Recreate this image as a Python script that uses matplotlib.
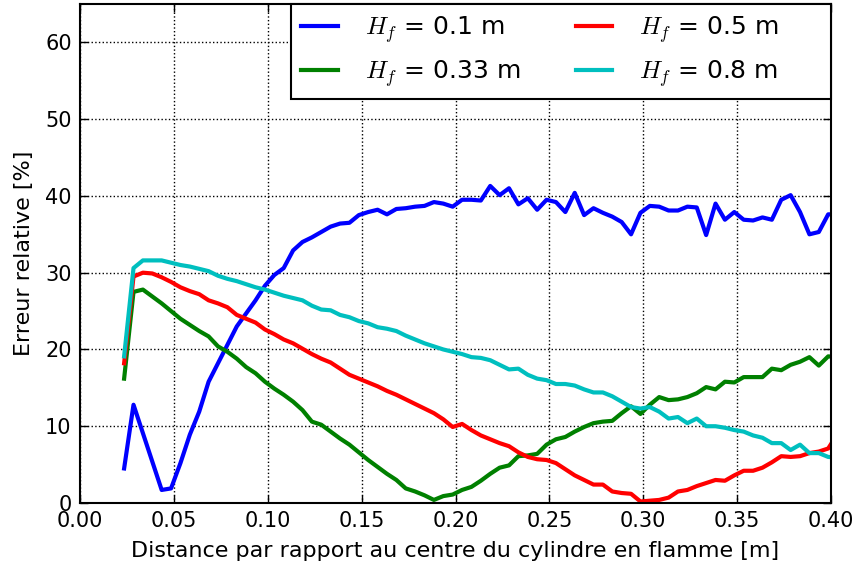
"""Erreur relative en fonction de la distance au cylindre en flamme."""

import matplotlib

matplotlib.use("Agg")
import matplotlib.pyplot as plt


# distance au centre du cylindre [m]
DISTANCE = [
    0.0235, 0.0285, 0.0335, 0.0385, 0.0435, 0.0485, 0.0535, 0.0585, 0.0635, 0.0685,
    0.0735, 0.0785, 0.0835, 0.0885, 0.0935, 0.0985, 0.1035, 0.1085, 0.1135, 0.1185,
    0.1235, 0.1285, 0.1335, 0.1385, 0.1435, 0.1485, 0.1535, 0.1585, 0.1635, 0.1685,
    0.1735, 0.1785, 0.1835, 0.1885, 0.1935, 0.1985, 0.2035, 0.2085, 0.2135, 0.2185,
    0.2235, 0.2285, 0.2335, 0.2385, 0.2435, 0.2485, 0.2535, 0.2585, 0.2635, 0.2685,
    0.2735, 0.2785, 0.2835, 0.2885, 0.2935, 0.2985, 0.3035, 0.3085, 0.3135, 0.3185,
    0.3235, 0.3285, 0.3335, 0.3385, 0.3435, 0.3485, 0.3535, 0.3585, 0.3635, 0.3685,
    0.3735, 0.3785, 0.3835, 0.3885, 0.3935, 0.3985, 0.4035,
]

# erreur relative [%] pour chaque hauteur de flamme
ERR_HF_010 = [
    4.5, 12.8, 9.1, 5.4, 1.7, 1.9, 5.2, 8.9, 11.9, 15.8,
    18.2, 20.6, 23.0, 24.7, 26.4, 28.3, 29.7, 30.6, 32.9, 34.0,
    34.6, 35.3, 36.0, 36.4, 36.5, 37.5, 37.9, 38.2, 37.6, 38.3,
    38.4, 38.6, 38.7, 39.2, 39.0, 38.6, 39.5, 39.5, 39.4, 41.3,
    40.1, 41.0, 38.9, 39.7, 38.2, 39.5, 39.2, 37.9, 40.4, 37.5,
    38.4, 37.8, 37.3, 36.6, 35.0, 37.8, 38.7, 38.6, 38.1, 38.1,
    38.6, 38.5, 34.9, 39.0, 36.9, 37.9, 36.9, 36.8, 37.2, 36.9,
    39.5, 40.1, 37.9, 35.0, 35.3, 37.6, 37.6,
]
ERR_HF_033 = [
    16.2, 27.5, 27.8, 26.9, 26.0, 25.0, 24.0, 23.2, 22.4, 21.7,
    20.4, 19.7, 18.8, 17.7, 16.9, 15.8, 14.9, 14.1, 13.2, 12.1,
    10.6, 10.2, 9.3, 8.4, 7.6, 6.6, 5.6, 4.7, 3.8, 3.0,
    1.9, 1.5, 1.0, 0.4, 0.9, 1.1, 1.7, 2.1, 2.9, 3.8,
    4.6, 4.9, 6.1, 6.2, 6.4, 7.6, 8.3, 8.6, 9.3, 9.9,
    10.4, 10.6, 10.7, 11.7, 12.6, 11.6, 12.8, 13.8, 13.4, 13.5,
    13.8, 14.3, 15.1, 14.8, 15.8, 15.7, 16.4, 16.4, 16.4, 17.5,
    17.3, 18.0, 18.4, 19.0, 17.9, 19.1, 19.0,
]
ERR_HF_050 = [
    18.2, 29.5, 30.0, 29.9, 29.4, 28.8, 28.1, 27.6, 27.2, 26.4,
    26.0, 25.5, 24.5, 24.0, 23.5, 22.6, 22.0, 21.3, 20.8, 20.1,
    19.4, 18.8, 18.3, 17.5, 16.7, 16.2, 15.7, 15.2, 14.6, 14.1,
    13.5, 12.9, 12.3, 11.7, 10.9, 9.9, 10.3, 9.5, 8.8, 8.3,
    7.8, 7.4, 6.6, 6.0, 5.7, 5.6, 5.2, 4.4, 3.6, 3.0,
    2.4, 2.4, 1.5, 1.3, 1.2, 0.2, 0.3, 0.4, 0.7, 1.5,
    1.7, 2.2, 2.6, 3.0, 2.9, 3.6, 4.2, 4.2, 4.6, 5.3,
    6.1, 6.0, 6.1, 6.5, 6.7, 7.1, 9.0,
]
ERR_HF_080 = [
    19.1, 30.6, 31.6, 31.6, 31.6, 31.3, 31.0, 30.8, 30.5, 30.2,
    29.6, 29.2, 28.9, 28.5, 28.1, 27.8, 27.4, 27.0, 26.7, 26.4,
    25.7, 25.2, 25.1, 24.5, 24.2, 23.7, 23.4, 22.9, 22.7, 22.4,
    21.8, 21.3, 20.8, 20.4, 20.0, 19.7, 19.4, 19.0, 18.9, 18.6,
    18.0, 17.4, 17.5, 16.7, 16.2, 16.0, 15.5, 15.5, 15.3, 14.8,
    14.4, 14.4, 13.9, 13.2, 12.5, 12.3, 12.5, 11.9, 11.0, 11.2,
    10.4, 11.0, 10.0, 10.0, 9.8, 9.5, 9.3, 8.8, 8.5, 7.8,
    7.8, 6.9, 7.6, 6.5, 6.5, 6.0, 5.9,
]

# les espaces finaux de la 2e colonne elargissent le cadre comme sur l'original
SERIES = [
    (ERR_HF_010, "b", r"$H_f$ = 0.1 m"),
    (ERR_HF_033, "g", r"$H_f$ = 0.33 m"),
    (ERR_HF_050, "r", r"$H_f$ = 0.5 m      "),
    (ERR_HF_080, "c", r"$H_f$ = 0.8 m      "),
]


def main():
    plt.rcParams["mathtext.fontset"] = "cm"
    plt.rcParams["font.family"] = "DejaVu Sans"
    plt.rcParams["xtick.direction"] = "in"
    plt.rcParams["ytick.direction"] = "in"
    plt.rcParams["xtick.top"] = True
    plt.rcParams["ytick.right"] = True

    fig = plt.figure(figsize=(8.59, 5.74), dpi=100)
    ax = fig.add_axes([80 / 859, 71 / 574, 751 / 859, 499 / 574])

    for values, color, label in SERIES:
        ax.plot(DISTANCE, values, color=color, linewidth=3, label=label)

    ax.set_xlim(0, 0.4)
    ax.set_ylim(0, 65)
    ax.set_xticks([0.0, 0.05, 0.1, 0.15, 0.2, 0.25, 0.3, 0.35, 0.4])
    ax.set_yticks([0, 10, 20, 30, 40, 50, 60])
    ax.tick_params(labelsize=15, length=6, width=1, pad=6)
    ax.grid(True, color="black", linestyle=":", linewidth=1)
    for spine in ax.spines.values():
        spine.set_linewidth(1.5)

    ax.set_xlabel("Distance par rapport au centre du cylindre en flamme [m]",
                  fontsize=16, labelpad=7)
    ax.set_ylabel("Erreur relative [%]", fontsize=16, labelpad=8)

    leg = ax.legend(
        loc="upper right",
        ncol=2,
        fontsize=18,
        borderaxespad=0,
        borderpad=0.4,
        fancybox=False,
        framealpha=1,
        handlelength=1.45,
        handletextpad=1.1,
        columnspacing=2.2,
        labelspacing=0.53,
    )
    leg.get_frame().set_edgecolor("black")
    leg.get_frame().set_linewidth(1.5)

    fig.savefig("out.png", dpi=100)
    plt.close(fig)


if __name__ == "__main__":
    main()
